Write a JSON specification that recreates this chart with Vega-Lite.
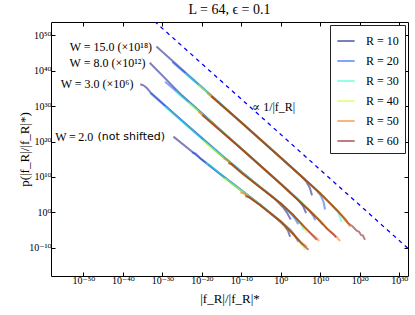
{
 "$schema": "https://vega.github.io/schema/vega-lite/v6.json",
 "width": 357, "height": 254,
 "autosize": {"type": "none"},
 "padding": {"left": 51, "top": 22, "right": 7, "bottom": 39},
 "background": "white",
 "title": {"text": "L = 64, ϵ = 0.1", "font": "Liberation Serif, DejaVu Serif, serif", "fontSize": 14, "fontWeight": "normal", "offset": 5, "color": "black"},
 "config": {
  "font": "Liberation Serif, DejaVu Serif, serif",
  "view": {"stroke": "black", "strokeWidth": 1},
  "axis": {"grid": false, "domain": false, "ticks": true, "tickColor": "black", "tickSize": -4, "labelOverlap": false, "labelBound": false, "labelFont": "Liberation Serif, DejaVu Serif, serif", "labelFontSize": 10, "labelColor": "black", "titleFont": "Liberation Serif, DejaVu Serif, serif", "titleFontSize": 13, "titleFontWeight": "normal", "titleColor": "black"},
  "legend": {"orient": "top-right", "offset": 3, "fillColor": "white", "strokeColor": "#222222", "padding": 6, "cornerRadius": 0, "symbolType": "stroke", "symbolSize": 300, "symbolStrokeWidth": 2, "labelFont": "Liberation Serif, DejaVu Serif, serif", "labelFontSize": 12, "labelColor": "black", "rowPadding": 4, "labelOffset": 10}
 },
 "resolve": {"axis": {"x": "independent", "y": "independent"}},
 "layer": [
  {
   "data": {"values": [{"f": 1e-35, "p": 1e57}, {"f": 1e35, "p": 1e-13}]},
   "mark": {"type": "line", "color": "#0000ff", "strokeDash": [4, 4], "strokeWidth": 1.3, "clip": true},
   "encoding": {
    "x": {"field": "f", "type": "quantitative", "scale": {"type": "log", "domain": [6.3e-59, 1.58e32], "nice": false}, "axis": {"orient": "top", "labels": false, "title": null, "values": [1e-50, 1e-40, 1e-30, 1e-20, 1e-10, 1, 1e10, 1e20, 1e30]}},
    "y": {"field": "p", "type": "quantitative", "scale": {"type": "log", "domain": [1e-18, 6.3e53], "nice": false}, "axis": {"orient": "right", "labels": false, "title": null, "values": [1e-10, 1, 1e10, 1e20, 1e30, 1e40, 1e50]}}
   }
  },
  {
   "data": {"values": [
    {"W":"15","R":"R = 10","f":3.16e-32,"p":7.94e46},{"W":"15","R":"R = 10","f":1e-25,"p":2.51e40},{"W":"15","R":"R = 10","f":1e-15,"p":2.51e30},{"W":"15","R":"R = 10","f":1e-5,"p":2.51e20},{"W":"15","R":"R = 10","f":1e3,"p":2.51e12},{"W":"15","R":"R = 10","f":1e5,"p":2.51e10},{"W":"15","R":"R = 10","f":3.16e6,"p":3.98e8},{"W":"15","R":"R = 10","f":2e7,"p":1e7},{"W":"15","R":"R = 10","f":7.94e7,"p":6.31e4},
    {"W":"15","R":"R = 20","f":3.16e-28,"p":3.16e42},{"W":"15","R":"R = 20","f":1e-20,"p":2e35},{"W":"15","R":"R = 20","f":1e-10,"p":2.51e25},{"W":"15","R":"R = 20","f":1,"p":2.51e15},{"W":"15","R":"R = 20","f":1e6,"p":2.51e9},{"W":"15","R":"R = 20","f":1e9,"p":2e6},{"W":"15","R":"R = 20","f":1.58e10,"p":3.98e4},{"W":"15","R":"R = 20","f":6.31e10,"p":1e3},{"W":"15","R":"R = 20","f":1.58e11,"p":6.31},
    {"W":"15","R":"R = 30","f":6.31e-25,"p":2.51e39},{"W":"15","R":"R = 30","f":1e-15,"p":2.51e30},{"W":"15","R":"R = 30","f":1e-5,"p":2.51e20},{"W":"15","R":"R = 30","f":1e5,"p":2.51e10},{"W":"15","R":"R = 30","f":1e10,"p":2e5},{"W":"15","R":"R = 30","f":1e13,"p":100},{"W":"15","R":"R = 30","f":3.16e14,"p":1},{"W":"15","R":"R = 30","f":2.51e15,"p":2e-3},
    {"W":"15","R":"R = 40","f":1.26e-21,"p":1e36},{"W":"15","R":"R = 40","f":1e-10,"p":2.51e25},{"W":"15","R":"R = 40","f":1,"p":2.51e15},{"W":"15","R":"R = 40","f":1e10,"p":2e5},{"W":"15","R":"R = 40","f":1e14,"p":7.94},{"W":"15","R":"R = 40","f":3.16e15,"p":0.126},{"W":"15","R":"R = 40","f":2e16,"p":1.58e-3},
    {"W":"15","R":"R = 50","f":2e-19,"p":6.31e33},{"W":"15","R":"R = 50","f":1e-10,"p":2.51e25},{"W":"15","R":"R = 50","f":1,"p":2.51e15},{"W":"15","R":"R = 50","f":1e10,"p":2e5},{"W":"15","R":"R = 50","f":1.58e14,"p":3.98},{"W":"15","R":"R = 50","f":3.16e16,"p":0.01},{"W":"15","R":"R = 50","f":3.16e17,"p":7.94e-5},
    {"W":"15","R":"R = 60","f":2.51e-18,"p":6.31e32},{"W":"15","R":"R = 60","f":1e-10,"p":2.51e25},{"W":"15","R":"R = 60","f":1,"p":2.51e15},{"W":"15","R":"R = 60","f":1e10,"p":2e5},{"W":"15","R":"R = 60","f":1.58e14,"p":3.98},{"W":"15","R":"R = 60","f":1e17,"p":1e-3},{"W":"15","R":"R = 60","f":1.58e18,"p":1e-4},{"W":"15","R":"R = 60","f":1.58e19,"p":6.31e-6},{"W":"15","R":"R = 60","f":6.31e19,"p":3.16e-6},{"W":"15","R":"R = 60","f":2e20,"p":3.98e-7},{"W":"15","R":"R = 60","f":6.31e20,"p":2.51e-7},{"W":"15","R":"R = 60","f":2e21,"p":1.58e-8},
    {"W":"8","R":"R = 10","f":6.31e-34,"p":2e42},{"W":"8","R":"R = 10","f":1e-25,"p":1e33},{"W":"8","R":"R = 10","f":1e-15,"p":1e23},{"W":"8","R":"R = 10","f":1e-5,"p":1e13},{"W":"8","R":"R = 10","f":100,"p":1e6},{"W":"8","R":"R = 10","f":3.16e4,"p":2.51e3},{"W":"8","R":"R = 10","f":3.98e5,"p":63.1},{"W":"8","R":"R = 10","f":2.51e6,"p":0.631},
    {"W":"8","R":"R = 20","f":5.01e-30,"p":7.94e36},{"W":"8","R":"R = 20","f":1e-20,"p":1e28},{"W":"8","R":"R = 20","f":1e-10,"p":1e18},{"W":"8","R":"R = 20","f":1,"p":1e8},{"W":"8","R":"R = 20","f":1e5,"p":1e3},{"W":"8","R":"R = 20","f":2e7,"p":2.51},{"W":"8","R":"R = 20","f":1.58e8,"p":0.1},{"W":"8","R":"R = 20","f":5.01e8,"p":6.31e-3},
    {"W":"8","R":"R = 30","f":2e-27,"p":2e34},{"W":"8","R":"R = 30","f":1e-15,"p":1e23},{"W":"8","R":"R = 30","f":1e-5,"p":1e13},{"W":"8","R":"R = 30","f":1e5,"p":1e3},{"W":"8","R":"R = 30","f":1e8,"p":0.794},{"W":"8","R":"R = 30","f":6.31e9,"p":6.31e-3},{"W":"8","R":"R = 30","f":3.16e10,"p":2.51e-4},
    {"W":"8","R":"R = 40","f":3.16e-24,"p":1.26e31},{"W":"8","R":"R = 40","f":1e-15,"p":1e23},{"W":"8","R":"R = 40","f":1e-5,"p":1e13},{"W":"8","R":"R = 40","f":1e5,"p":1e3},{"W":"8","R":"R = 40","f":1e9,"p":7.94e-2},{"W":"8","R":"R = 40","f":6.31e10,"p":6.31e-4},{"W":"8","R":"R = 40","f":6.31e11,"p":1e-5},
    {"W":"8","R":"R = 50","f":1.26e-21,"p":3.16e28},{"W":"8","R":"R = 50","f":1e-10,"p":1e18},{"W":"8","R":"R = 50","f":1,"p":1e8},{"W":"8","R":"R = 50","f":2.51e7,"p":2},{"W":"8","R":"R = 50","f":1e10,"p":2.51e-3},{"W":"8","R":"R = 50","f":1e12,"p":1.26e-5},{"W":"8","R":"R = 50","f":3.16e13,"p":5.01e-7},{"W":"8","R":"R = 50","f":2e14,"p":6.31e-8},{"W":"8","R":"R = 50","f":1e15,"p":7.94e-9},
    {"W":"8","R":"R = 60","f":1.26e-20,"p":3.16e27},{"W":"8","R":"R = 60","f":1e-10,"p":1e18},{"W":"8","R":"R = 60","f":1,"p":1e8},{"W":"8","R":"R = 60","f":2.51e7,"p":2},{"W":"8","R":"R = 60","f":1e10,"p":2.51e-3},{"W":"8","R":"R = 60","f":3.16e11,"p":3.98e-5},{"W":"8","R":"R = 60","f":3.16e12,"p":3.98e-6},{"W":"8","R":"R = 60","f":1.58e13,"p":7.94e-7},{"W":"8","R":"R = 60","f":1e14,"p":7.94e-8},
    {"W":"3","R":"R = 10","f":2.51e-36,"p":1.58e36},{"W":"3","R":"R = 10","f":1.58e-35,"p":7.94e35},{"W":"3","R":"R = 10","f":1e-34,"p":1.58e35},{"W":"3","R":"R = 10","f":1e-33,"p":7.94e33},{"W":"3","R":"R = 10","f":1e-25,"p":7.94e25},{"W":"3","R":"R = 10","f":1e-15,"p":1.26e16},{"W":"3","R":"R = 10","f":1e-7,"p":5.01e8},{"W":"3","R":"R = 10","f":0.01,"p":2e4},{"W":"3","R":"R = 10","f":3.16,"p":31.6},{"W":"3","R":"R = 10","f":31.6,"p":1},{"W":"3","R":"R = 10","f":316,"p":0.01},
    {"W":"3","R":"R = 20","f":7.94e-34,"p":5.01e33},{"W":"3","R":"R = 20","f":1e-25,"p":6.31e25},{"W":"3","R":"R = 20","f":1e-15,"p":1.26e16},{"W":"3","R":"R = 20","f":1e-5,"p":7.94e6},{"W":"3","R":"R = 20","f":1,"p":316},{"W":"3","R":"R = 20","f":316,"p":0.501},{"W":"3","R":"R = 20","f":3.98e3,"p":0.0158},{"W":"3","R":"R = 20","f":2.51e4,"p":3.98e-4},
    {"W":"3","R":"R = 30","f":5.01e-30,"p":7.94e29},{"W":"3","R":"R = 30","f":1e-20,"p":6.31e20},{"W":"3","R":"R = 30","f":1e-10,"p":3.16e11},{"W":"3","R":"R = 30","f":1,"p":316},{"W":"3","R":"R = 30","f":1e3,"p":0.251},{"W":"3","R":"R = 30","f":3.98e4,"p":2e-3},{"W":"3","R":"R = 30","f":2e5,"p":1.58e-4},{"W":"3","R":"R = 30","f":6.31e5,"p":1e-5},
    {"W":"3","R":"R = 40","f":2e-20,"p":1.58e20},{"W":"3","R":"R = 40","f":1e-15,"p":6.31e15},{"W":"3","R":"R = 40","f":1e-5,"p":7.94e6},{"W":"3","R":"R = 40","f":1,"p":316},{"W":"3","R":"R = 40","f":1e3,"p":0.251},{"W":"3","R":"R = 40","f":1e5,"p":1e-3},{"W":"3","R":"R = 40","f":1e6,"p":2.51e-5},{"W":"3","R":"R = 40","f":3.98e6,"p":1e-6},
    {"W":"3","R":"R = 50","f":3.16e-15,"p":2e15},{"W":"3","R":"R = 50","f":1.58e-14,"p":1e15},{"W":"3","R":"R = 50","f":1e-10,"p":1.58e11},{"W":"3","R":"R = 50","f":1,"p":316},{"W":"3","R":"R = 50","f":1e3,"p":0.251},{"W":"3","R":"R = 50","f":1.58e6,"p":3.98e-5},{"W":"3","R":"R = 50","f":1e8,"p":5.01e-7},{"W":"3","R":"R = 50","f":1e9,"p":6.31e-8},{"W":"3","R":"R = 50","f":5.01e9,"p":7.94e-9},
    {"W":"3","R":"R = 60","f":5.01e-14,"p":7.94e13},{"W":"3","R":"R = 60","f":3.16e-13,"p":3.98e13},{"W":"3","R":"R = 60","f":1e-10,"p":1.58e11},{"W":"3","R":"R = 60","f":1,"p":316},{"W":"3","R":"R = 60","f":1e3,"p":0.251},{"W":"3","R":"R = 60","f":1.58e6,"p":3.98e-5},{"W":"3","R":"R = 60","f":1e8,"p":3.16e-7},{"W":"3","R":"R = 60","f":1.26e9,"p":1.58e-8},
    {"W":"2","R":"R = 10","f":6.31e-28,"p":2.51e21},{"W":"2","R":"R = 10","f":3.98e-21,"p":2e15},{"W":"2","R":"R = 10","f":1.58e-13,"p":3.98e8},{"W":"2","R":"R = 10","f":6.31e-6,"p":126},{"W":"2","R":"R = 10","f":0.1,"p":0.0158},{"W":"2","R":"R = 10","f":10,"p":1.26e-4},{"W":"2","R":"R = 10","f":63.1,"p":6.31e-6},{"W":"2","R":"R = 10","f":224,"p":1.26e-7},
    {"W":"2","R":"R = 20","f":3.16e-23,"p":7.94e16},{"W":"2","R":"R = 20","f":3.16e-22,"p":3.98e16},{"W":"2","R":"R = 20","f":3.98e-21,"p":1.58e15},{"W":"2","R":"R = 20","f":1.58e-13,"p":3.98e8},{"W":"2","R":"R = 20","f":6.31e-6,"p":126},{"W":"2","R":"R = 20","f":1,"p":2.51e-3},{"W":"2","R":"R = 20","f":316,"p":1e-5},{"W":"2","R":"R = 20","f":3.98e3,"p":2.51e-7},{"W":"2","R":"R = 20","f":2.51e4,"p":5.01e-9},
    {"W":"2","R":"R = 30","f":6.31e-20,"p":6.31e13},{"W":"2","R":"R = 30","f":6.31e-19,"p":3.98e13},{"W":"2","R":"R = 30","f":1.58e-13,"p":3.16e8},{"W":"2","R":"R = 30","f":6.31e-6,"p":126},{"W":"2","R":"R = 30","f":1,"p":2.51e-3},{"W":"2","R":"R = 30","f":1e3,"p":1e-6},{"W":"2","R":"R = 30","f":3.98e4,"p":1.58e-8},{"W":"2","R":"R = 30","f":2.51e5,"p":6.31e-10},
    {"W":"2","R":"R = 40","f":1.26e-15,"p":3.98e9},{"W":"2","R":"R = 40","f":1.26e-14,"p":2.51e9},{"W":"2","R":"R = 40","f":1.58e-13,"p":2.51e8},{"W":"2","R":"R = 40","f":6.31e-6,"p":126},{"W":"2","R":"R = 40","f":1,"p":2.51e-3},{"W":"2","R":"R = 40","f":1e3,"p":1e-6},{"W":"2","R":"R = 40","f":1e5,"p":2.51e-9},{"W":"2","R":"R = 40","f":1.41e6,"p":2.51e-11},
    {"W":"2","R":"R = 50","f":5.01e-11,"p":3.98e5},{"W":"2","R":"R = 50","f":5.01e-10,"p":2e5},{"W":"2","R":"R = 50","f":6.31e-6,"p":100},{"W":"2","R":"R = 50","f":1,"p":2.51e-3},{"W":"2","R":"R = 50","f":1e3,"p":1e-6},{"W":"2","R":"R = 50","f":1e5,"p":3.98e-9},{"W":"2","R":"R = 50","f":3.98e6,"p":2e-10},
    {"W":"2","R":"R = 60","f":1e-9,"p":3.98e4},{"W":"2","R":"R = 60","f":1e-8,"p":1.58e4},{"W":"2","R":"R = 60","f":6.31e-6,"p":100},{"W":"2","R":"R = 60","f":1,"p":2.51e-3},{"W":"2","R":"R = 60","f":1e3,"p":1e-6},{"W":"2","R":"R = 60","f":1e5,"p":3.16e-9},{"W":"2","R":"R = 60","f":1.58e6,"p":1.58e-10},{"W":"2","R":"R = 60","f":1e7,"p":2.51e-11}
   ]},
   "mark": {"type": "line", "strokeWidth": 2, "opacity": 0.5, "clip": true},
   "encoding": {
    "x": {"field": "f", "type": "quantitative", "scale": {"type": "log", "domain": [6.3e-59, 1.58e32], "nice": false}, "axis": {"orient": "bottom", "title": "|f_R|/|f_R|*", "values": [1e-50, 1e-40, 1e-30, 1e-20, 1e-10, 1, 1e10, 1e20, 1e30], "labelExpr": "datum.value < 1e-45 ? '10⁻⁵⁰' : datum.value < 1e-35 ? '10⁻⁴⁰' : datum.value < 1e-25 ? '10⁻³⁰' : datum.value < 1e-15 ? '10⁻²⁰' : datum.value < 1e-5 ? '10⁻¹⁰' : datum.value < 1e5 ? '10⁰' : datum.value < 1e15 ? '10¹⁰' : datum.value < 1e25 ? '10²⁰' : datum.value < 1e35 ? '10³⁰' : datum.value < 1e45 ? '10⁴⁰' : '10⁵⁰'", "labelPadding": 3, "titleY": 22, "titleBaseline": "middle"}},
    "y": {"field": "p", "type": "quantitative", "scale": {"type": "log", "domain": [1e-18, 6.3e53], "nice": false}, "axis": {"orient": "left", "title": "p(|f_R|/|f_R|*)", "values": [1e-10, 1, 1e10, 1e20, 1e30, 1e40, 1e50], "labelExpr": "datum.value < 1e-45 ? '10⁻⁵⁰' : datum.value < 1e-35 ? '10⁻⁴⁰' : datum.value < 1e-25 ? '10⁻³⁰' : datum.value < 1e-15 ? '10⁻²⁰' : datum.value < 1e-5 ? '10⁻¹⁰' : datum.value < 1e5 ? '10⁰' : datum.value < 1e15 ? '10¹⁰' : datum.value < 1e25 ? '10²⁰' : datum.value < 1e35 ? '10³⁰' : datum.value < 1e45 ? '10⁴⁰' : '10⁵⁰'", "labelPadding": 4, "titleX": -27, "titleBaseline": "middle"}},
    "color": {"field": "R", "type": "nominal", "scale": {"domain": ["R = 10", "R = 20", "R = 30", "R = 40", "R = 50", "R = 60"], "range": ["#000080", "#004dff", "#29ffce", "#ceff29", "#ff6800", "#800000"]}, "legend": {"title": null}},
    "detail": {"field": "W", "type": "nominal"}
   }
  },
  {
   "data": {"values": [
    {"label": "W = 15.0 (×10¹⁸)", "f": 2.51e-33, "p": 6.31e46},
    {"label": "W = 8.0 (×10¹²)", "f": 5.01e-35, "p": 2e42},
    {"label": "W = 3.0 (×10⁶)", "f": 5.01e-38, "p": 1.58e36},
    {"label": "W\u2009=\u20092.0", "f": 3.16e-48, "p": 2.51e21}
   ]},
   "mark": {"type": "text", "align": "right", "baseline": "middle", "font": "Liberation Serif, DejaVu Serif, serif", "fontSize": 12, "color": "black"},
   "encoding": {
    "x": {"field": "f", "type": "quantitative", "scale": {"type": "log", "domain": [6.3e-59, 1.58e32], "nice": false}, "axis": null},
    "y": {"field": "p", "type": "quantitative", "scale": {"type": "log", "domain": [1e-18, 6.3e53], "nice": false}, "axis": null},
    "text": {"field": "label"}
   }
  },
  {
   "data": {"values": [{"label": "(not shifted)", "f": 5.01e-30, "p": 2.51e21}]},
   "mark": {"type": "text", "align": "right", "baseline": "middle", "font": "DejaVu Sans", "fontSize": 11, "color": "black"},
   "encoding": {
    "x": {"field": "f", "type": "quantitative", "scale": {"type": "log", "domain": [6.3e-59, 1.58e32], "nice": false}, "axis": null},
    "y": {"field": "p", "type": "quantitative", "scale": {"type": "log", "domain": [1e-18, 6.3e53], "nice": false}, "axis": null},
    "text": {"field": "label"}
   }
  },
  {
   "data": {"values": [{"label": "∝ 1/|f_R|", "f": 5.01e-8, "p": 6.31e29}]},
   "mark": {"type": "text", "align": "left", "baseline": "middle", "font": "Liberation Serif, DejaVu Serif, serif", "fontSize": 12, "color": "black"},
   "encoding": {
    "x": {"field": "f", "type": "quantitative", "scale": {"type": "log", "domain": [6.3e-59, 1.58e32], "nice": false}, "axis": null},
    "y": {"field": "p", "type": "quantitative", "scale": {"type": "log", "domain": [1e-18, 6.3e53], "nice": false}, "axis": null},
    "text": {"field": "label"}
   }
  }
 ]
}
